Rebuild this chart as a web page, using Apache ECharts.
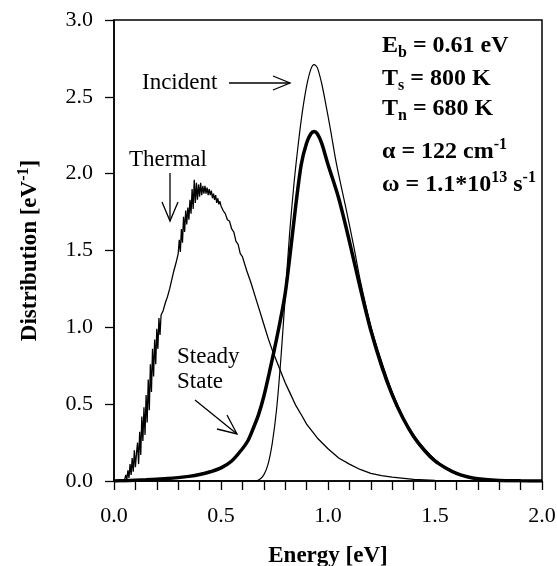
<!DOCTYPE html>
<html>
<head>
<meta charset="utf-8">
<script src="https://cdn.jsdelivr.net/npm/echarts@6/dist/echarts.min.js"></script>
<style>
html,body{margin:0;padding:0;background:#fff;}
#c{width:557px;height:566px;}
</style>
</head>
<body>
<div id="c"></div>
<script>
// ---- data ----
const xTicks = [0.0, 0.5, 1.0, 1.5, 2.0];
const yTicks = [0.0, 0.5, 1.0, 1.5, 2.0, 2.5, 3.0];

const thermalE = [0.00,0.03,0.05,0.055,0.06,0.065,0.07,0.075,0.08,0.085,0.09,0.095,0.10,0.105,0.11,0.115,0.12,0.125,0.13,0.135,0.14,0.145,0.15,0.155,0.16,0.165,0.17,0.175,0.18,0.185,0.19,0.195,0.20,0.205,0.21,0.215,0.22,0.23,0.24,0.25,0.26,0.27,0.28,0.29,0.30,0.305,0.31,0.315,0.32,0.325,0.33,0.335,0.34,0.345,0.35,0.355,0.36,0.365,0.37,0.375,0.38,0.385,0.39,0.395,0.40,0.405,0.41,0.415,0.42,0.425,0.43,0.435,0.44,0.445,0.45,0.455,0.46,0.465,0.47,0.475,0.48,0.485,0.49,0.495,0.50,0.51,0.52,0.53,0.54,0.55,0.56,0.57,0.58,0.59,0.60,0.62,0.64,0.66,0.68,0.70,0.72,0.74,0.76,0.78,0.80,0.82,0.85,0.88,0.90,0.95,1.00,1.05,1.10,1.15,1.20,1.25,1.30,1.40,1.50,1.60,1.70,2.00];
const thermalD = [0,0,0.01,0.04,0.01,0.07,0.02,0.11,0.04,0.15,0.06,0.20,0.09,0.18,0.25,0.11,0.32,0.17,0.42,0.26,0.48,0.30,0.56,0.38,0.66,0.46,0.76,0.58,0.86,0.68,0.92,0.76,0.99,0.86,1.06,0.95,1.08,1.11,1.16,1.20,1.25,1.31,1.37,1.42,1.48,1.57,1.49,1.64,1.55,1.72,1.62,1.76,1.67,1.78,1.70,1.83,1.74,1.90,1.77,1.96,1.81,1.94,1.83,1.93,1.85,1.94,1.86,1.92,1.87,1.92,1.87,1.91,1.86,1.90,1.86,1.89,1.84,1.87,1.83,1.86,1.81,1.84,1.80,1.82,1.79,1.76,1.74,1.70,1.69,1.64,1.62,1.56,1.54,1.48,1.46,1.37,1.29,1.20,1.11,1.02,0.93,0.85,0.78,0.71,0.64,0.58,0.49,0.42,0.37,0.28,0.21,0.15,0.11,0.075,0.05,0.035,0.025,0.01,0.004,0.001,0,0];

const incidentE = [0.00,0.60,0.66,0.68,0.70,0.72,0.74,0.76,0.78,0.80,0.82,0.84,0.86,0.88,0.90,0.92,0.935,0.95,0.97,0.99,1.01,1.04,1.08,1.12,1.15,1.20,1.25,1.30,1.35,1.40,1.45,1.50,1.55,1.60,1.65,1.70,1.80,1.90,2.00];
const incidentD = [0,0,0,0.01,0.04,0.11,0.25,0.47,0.80,1.20,1.60,1.92,2.18,2.40,2.57,2.68,2.71,2.69,2.59,2.45,2.30,2.06,1.80,1.53,1.31,1.01,0.78,0.58,0.42,0.30,0.21,0.14,0.09,0.055,0.03,0.016,0.005,0.001,0];

const steadyE = [0.00,0.05,0.10,0.15,0.20,0.25,0.30,0.35,0.40,0.45,0.50,0.55,0.60,0.625,0.65,0.675,0.70,0.725,0.75,0.775,0.80,0.825,0.85,0.875,0.90,0.92,0.935,0.95,0.97,1.00,1.05,1.10,1.15,1.20,1.25,1.30,1.35,1.40,1.45,1.50,1.55,1.60,1.65,1.70,1.80,1.90,2.00];
const steadyD = [0,0.002,0.005,0.008,0.012,0.016,0.022,0.03,0.042,0.06,0.085,0.13,0.21,0.26,0.34,0.43,0.55,0.70,0.86,1.03,1.22,1.50,1.80,2.06,2.20,2.26,2.275,2.26,2.20,2.06,1.84,1.56,1.26,0.98,0.75,0.56,0.41,0.29,0.20,0.13,0.085,0.05,0.028,0.015,0.004,0.001,0];

const zip = (a, b) => a.map((v, i) => [v, b[i]]);
const serif = '"Liberation Serif", "Times New Roman", serif';

const chart = echarts.init(document.getElementById('c'), null, {renderer: 'canvas'});

const legendRich = {
  m: {fontSize: 24, fontWeight: 'bold', fontFamily: serif, color: '#000', lineHeight: 30},
  sub: {fontSize: 16, fontWeight: 'bold', fontFamily: serif, color: '#000', lineHeight: 12, verticalAlign: 'bottom'},
  sup: {fontSize: 16, fontWeight: 'bold', fontFamily: serif, color: '#000', lineHeight: 12, verticalAlign: 'top'}
};
function legendLine(text, y) {
  return {type: 'text', left: 382, top: y - 15, z: 10,
    style: {text: text, rich: legendRich, fill: '#000'}};
}
const plain = {fontSize: 23, fontFamily: serif, fill: '#000'};
const lineStyle = {stroke: '#000', lineWidth: 1.3};

chart.setOption({
  animation: false,
  backgroundColor: '#fff',
  grid: {left: 114, right: 15, top: 20, bottom: 85, show: true, borderColor: '#000', borderWidth: 1.5,
    containLabel: false, outerBoundsMode: 'none'},
  xAxis: {
    type: 'value', min: 0, max: 2, interval: 0.1,
    name: 'Energy [eV]', nameLocation: 'middle', nameGap: 64,
    nameTextStyle: {fontSize: 23, fontWeight: 'bold', fontFamily: serif, color: '#000'},
    axisLine: {lineStyle: {color: '#000', width: 1.5}},
    axisTick: {show: true, inside: false, length: 9, lineStyle: {color: '#000', width: 1.3}},
    axisLabel: {
      fontSize: 22, fontFamily: serif, color: '#000', margin: 24, showMinLabel: true, showMaxLabel: true,
      formatter: v => {
        const t = xTicks.find(x => Math.abs(x - v) < 1e-6);
        return t === undefined ? '' : t.toFixed(1);
      }
    },
    splitLine: {show: false}
  },
  yAxis: {
    type: 'value', min: 0, max: 3, interval: 0.5,
    name: '{a|Distribution [eV}{s|-1}{a|]}', nameLocation: 'middle', nameGap: 70, nameRotate: 90,
    nameTextStyle: {
      rich: {
        a: {fontSize: 23, fontWeight: 'bold', fontFamily: serif, color: '#000', lineHeight: 28},
        s: {fontSize: 16, fontWeight: 'bold', fontFamily: serif, color: '#000', lineHeight: 12, verticalAlign: 'top'}
      }
    },
    axisLine: {show: true, lineStyle: {color: '#000', width: 1.5}},
    axisTick: {show: true, inside: false, length: 9, lineStyle: {color: '#000', width: 1.3}},
    axisLabel: {
      fontSize: 22, fontFamily: serif, color: '#000', margin: 21,
      formatter: v => {
        const t = yTicks.find(y => Math.abs(y - v) < 1e-6);
        return t === undefined ? '' : t.toFixed(1);
      }
    },
    splitLine: {show: false}
  },
  series: [
    {name: 'Thermal', type: 'line', data: zip(thermalE, thermalD), showSymbol: false, symbol: 'none',
      lineStyle: {color: '#000', width: 1.3}, z: 3},
    {name: 'Incident', type: 'line', data: zip(incidentE, incidentD), showSymbol: false, symbol: 'none', smooth: 0.3,
      lineStyle: {color: '#000', width: 1.2}, z: 3},
    {name: 'Steady State', type: 'line', data: zip(steadyE, steadyD), showSymbol: false, symbol: 'none', smooth: 0.3,
      lineStyle: {color: '#000', width: 3.5}, z: 4}
  ],
  graphic: [
    legendLine('{m|E}{sub|b}{m| = 0.61 eV}', 49),
    legendLine('{m|T}{sub|s}{m| = 800 K}', 82),
    legendLine('{m|T}{sub|n}{m| = 680 K}', 112),
    legendLine('{m|α = 122 cm}{sup|-1}', 152),
    legendLine('{m|ω = 1.1*10}{sup|13}{m| s}{sup|-1}', 185),
    {type: 'text', left: 142, top: 71, style: Object.assign({text: 'Incident'}, plain)},
    {type: 'line', shape: {x1: 229, y1: 83, x2: 290, y2: 83}, style: lineStyle},
    {type: 'polyline', shape: {points: [[273, 76], [290, 83], [273, 90]]}, style: Object.assign({fill: null}, lineStyle)},
    {type: 'text', left: 129, top: 148, style: Object.assign({text: 'Thermal'}, plain)},
    {type: 'line', shape: {x1: 170, y1: 173, x2: 170, y2: 221}, style: lineStyle},
    {type: 'polyline', shape: {points: [[162, 202], [170, 221], [178, 202]]}, style: Object.assign({fill: null}, lineStyle)},
    {type: 'text', left: 177, top: 345, style: Object.assign({text: 'Steady'}, plain)},
    {type: 'text', left: 177, top: 370, style: Object.assign({text: 'State'}, plain)},
    {type: 'line', shape: {x1: 195, y1: 400, x2: 237, y2: 434}, style: lineStyle},
    {type: 'polyline', shape: {points: [[217, 429], [237, 434], [227, 415]]}, style: Object.assign({fill: null}, lineStyle)}
  ]
});
</script>
</body>
</html>
